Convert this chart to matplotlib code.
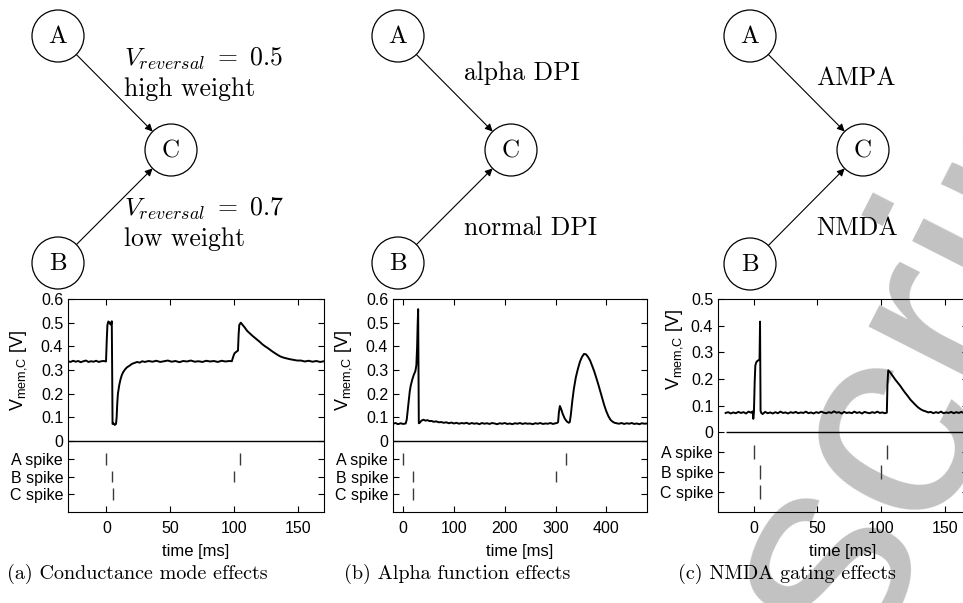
import matplotlib
matplotlib.use("Agg")
import matplotlib.pyplot as plt
import matplotlib.transforms as mtransforms
from matplotlib.patches import Circle, FancyArrowPatch
import numpy as np

plt.rcParams["font.family"] = ["Liberation Sans", "DejaVu Sans"]

# ---------------- membrane traces (time in ms, V_mem,C in V) ----------------
time_a = [-30, -28, -26, -24, -22, -20, -18, -16, -14, -12, -10, -8, -6, -4, -2, -0.3,
          0.3, 0.8, 1.5, 2.5, 3.2, 3.8, 4.2, 4.5, 4.8, 5.5, 6.5, 7.5, 8, 8.5, 9, 10, 11,
          12, 13, 14.5, 16, 18, 20, 22, 24, 26, 28, 30, 33, 36, 39, 42, 45, 48, 51, 54,
          57, 60, 63, 66, 69, 72, 75, 78, 81, 84, 87, 90, 93, 96, 98, 99, 100, 101.5,
          102.8, 103.3, 103.8, 105, 106.5, 108, 110, 112, 114, 116, 118, 120, 122, 124,
          126, 128, 130, 132, 134, 136, 138, 140, 143, 146, 149, 152, 155, 158, 161,
          164, 167, 170]
vmem_a = [0.337, 0.334, 0.339, 0.335, 0.338, 0.333, 0.337, 0.340, 0.334, 0.337, 0.335,
          0.339, 0.334, 0.337, 0.338, 0.336,
          0.43, 0.49, 0.505, 0.50, 0.492, 0.497, 0.506, 0.30, 0.072, 0.075, 0.068, 0.072,
          0.10, 0.16, 0.20, 0.235, 0.26, 0.278, 0.29, 0.302, 0.311, 0.318, 0.326, 0.330,
          0.334, 0.331, 0.337, 0.334, 0.338, 0.335, 0.339, 0.334, 0.337, 0.340, 0.335,
          0.338, 0.333, 0.338, 0.336, 0.340, 0.335, 0.337, 0.334, 0.339, 0.336, 0.338,
          0.334, 0.339, 0.336, 0.338, 0.337, 0.355, 0.37, 0.377, 0.382, 0.45, 0.49,
          0.50, 0.49, 0.48, 0.465, 0.455, 0.445, 0.436, 0.427, 0.418, 0.408, 0.40,
          0.393, 0.385, 0.377, 0.370, 0.363, 0.357, 0.353, 0.350, 0.346, 0.343, 0.340,
          0.340, 0.336, 0.339, 0.335, 0.338, 0.334, 0.337]

time_b = [-20, -15, -10, -5, 0, 5, 7, 9, 11, 13, 15, 18, 21, 24, 26, 27.5, 28.5, 29.5,
          30.2, 30.8, 33, 36, 40, 44, 48, 52, 56, 60, 65, 70, 75, 80, 85, 90, 95, 100,
          105, 110, 115, 120, 125, 130, 135, 140, 145, 150, 155, 160, 165, 170, 175,
          180, 185, 190, 195, 200, 205, 210, 215, 220, 225, 230, 235, 240, 245, 250,
          255, 260, 265, 270, 275, 280, 285, 290, 295, 300, 303, 305, 306.5, 308.5,
          311, 314, 318, 322, 326, 328, 330, 333, 336, 340, 344, 348, 352, 356, 360,
          364, 368, 372, 376, 380, 384, 388, 392, 396, 400, 404, 408, 412, 416, 420,
          425, 430, 435, 440, 445, 450, 455, 460, 465, 470, 475, 480]
vmem_b = [0.073, 0.076, 0.071, 0.075, 0.072, 0.074, 0.09, 0.13, 0.17, 0.21, 0.235,
          0.26, 0.28, 0.295, 0.32, 0.40, 0.49, 0.557, 0.30, 0.075, 0.078, 0.086, 0.09,
          0.086, 0.088, 0.084, 0.085, 0.081, 0.083, 0.079, 0.080, 0.077, 0.079, 0.075,
          0.078, 0.074, 0.077, 0.073, 0.076, 0.074, 0.077, 0.072, 0.076, 0.073, 0.075,
          0.071, 0.076, 0.073, 0.075, 0.072, 0.076, 0.074, 0.071, 0.075, 0.073, 0.076,
          0.072, 0.074, 0.071, 0.075, 0.073, 0.076, 0.072, 0.075, 0.073, 0.074, 0.071,
          0.075, 0.073, 0.076, 0.072, 0.074, 0.073, 0.076, 0.072, 0.075, 0.076, 0.08,
          0.12, 0.148, 0.135, 0.115, 0.095, 0.083, 0.077, 0.08, 0.11, 0.17, 0.22, 0.27,
          0.305, 0.335, 0.355, 0.368, 0.366, 0.355, 0.34, 0.318, 0.295, 0.268, 0.24,
          0.21, 0.18, 0.15, 0.125, 0.105, 0.09, 0.082, 0.077, 0.075, 0.073, 0.076,
          0.072, 0.075, 0.073, 0.076, 0.072, 0.074, 0.071, 0.075, 0.073, 0.074]

time_c = [-22, -20, -18, -16, -14, -12, -10, -8, -6, -4, -2, -0.8, -0.3, 0.2, 0.8, 1.3,
          2, 3, 4, 4.6, 5, 5.4, 6, 7, 9, 11, 13, 15, 17, 19, 21, 23, 25, 27, 29, 31, 33,
          35, 37, 39, 41, 43, 45, 47, 49, 51, 53, 55, 57, 59, 61, 63, 65, 67, 69, 71, 73,
          75, 77, 79, 81, 83, 85, 87, 89, 91, 93, 95, 97, 99, 101, 103, 104.5, 105,
          105.6, 107, 109, 111, 113, 115, 117, 119, 121, 123, 125, 127, 129, 131, 133,
          135, 137, 139, 141, 143, 145, 147, 149, 151, 153, 155, 157, 159, 161, 163,
          165, 168]
vmem_c = [0.072, 0.075, 0.070, 0.074, 0.071, 0.076, 0.072, 0.075, 0.070, 0.077, 0.073,
          0.078, 0.05, 0.075, 0.19, 0.25, 0.262, 0.268, 0.27, 0.275, 0.415, 0.08, 0.072,
          0.068, 0.076, 0.071, 0.074, 0.07, 0.075, 0.071, 0.077, 0.072, 0.074, 0.070,
          0.075, 0.072, 0.076, 0.071, 0.074, 0.072, 0.077, 0.071, 0.074, 0.070, 0.075,
          0.072, 0.077, 0.073, 0.071, 0.075, 0.072, 0.078, 0.073, 0.075, 0.070, 0.076,
          0.072, 0.074, 0.071, 0.077, 0.072, 0.075, 0.070, 0.076, 0.073, 0.071, 0.075,
          0.072, 0.077, 0.072, 0.074, 0.071, 0.073, 0.18, 0.232, 0.225, 0.212, 0.198,
          0.186, 0.174, 0.16, 0.147, 0.135, 0.122, 0.112, 0.102, 0.093, 0.086, 0.081,
          0.078, 0.074, 0.076, 0.071, 0.075, 0.072, 0.077, 0.071, 0.074, 0.072, 0.076,
          0.071, 0.075, 0.072, 0.076, 0.071, 0.074]

# ---------------- spike times (ms) ----------------
spike_labels = ["A spike", "B spike", "C spike"]
spike_rows = [-0.075, -0.15, -0.225]
spikes_a = [[0, 104], [4.5, 100], [5]]
spikes_b = [[0, 320], [20, 300], [20]]
spikes_c = [[0, 105], [5, 100], [5]]

# ---------------- axis settings ----------------
xlims = [(-30, 170), (-20, 480), (-28, 168.2)]
xticks = [[0, 50, 100, 150], [0, 100, 200, 300, 400], [0, 50, 100, 150]]
ylims = [(-0.3, 0.6), (-0.3, 0.6), (-0.3, 0.5)]
vticks = [[0, 0.1, 0.2, 0.3, 0.4, 0.5, 0.6],
          [0, 0.1, 0.2, 0.3, 0.4, 0.5, 0.6],
          [0, 0.1, 0.2, 0.3, 0.4, 0.5]]
captions = ["(a) Conductance mode effects", "(b) Alpha function effects",
            "(c) NMDA gating effects"]

# ---------------- network sketches (pixel layout) ----------------
node_names = ["A", "C", "B"]
node_xy = [[(58, 36), (171, 150), (58, 263)],
           [(398, 36), (511, 150), (398, 263)],
           [(750, 36), (863, 150), (750, 264)]]
node_r = 26
syn_labels = [[(r"$V_{reversal}\ =\ 0.5$", 124, 66), ("high weight", 124, 96),
               (r"$V_{reversal}\ =\ 0.7$", 124, 216), ("low weight", 124, 246)],
              [("alpha DPI", 464, 80), ("normal DPI", 464, 235)],
              [("AMPA", 816, 85), ("NMDA", 816, 235)]]

W, H = 963, 603
fig = plt.figure(figsize=(W / 100, H / 100), dpi=100)
fig.patch.set_facecolor("white")

# faint diagonal stamp behind everything
fig.text(525 / W, 1 - 1293 / H, "Manuscript", fontsize=208, color="#c2c2c2",
         rotation=63, rotation_mode="anchor", ha="left", va="baseline",
         family="Liberation Sans", zorder=-5)

# sketch layer in pixel coordinates
sk = fig.add_axes([0, 0, 1, 1])
sk.set_xlim(0, W)
sk.set_ylim(H, 0)
sk.axis("off")
sk.patch.set_alpha(0)
for nodes, labels in zip(node_xy, syn_labels):
    for name, (x, y) in zip(node_names, nodes):
        sk.add_patch(Circle((x, y), node_r, fill=False, lw=0.9, ec="k"))
        sk.text(x, y + 1, name, ha="center", va="center", fontsize=18, family="cmr10")
    cx, cy = nodes[1]
    for src in (nodes[0], nodes[2]):
        dx, dy = cx - src[0], cy - src[1]
        d = np.hypot(dx, dy)
        p0 = (src[0] + dx / d * node_r, src[1] + dy / d * node_r)
        p1 = (cx - dx / d * node_r, cy - dy / d * node_r)
        sk.add_patch(FancyArrowPatch(p0, p1, arrowstyle="-|>", mutation_scale=11,
                                     lw=0.8, color="k", shrinkA=0, shrinkB=0))
    for txt, x, y in labels:
        sk.text(x, y, txt, ha="left", va="baseline", fontsize=18.5, family="cmr10",
                math_fontfamily="cm")

# plot panels
panel_px = [(68, 256), (393, 254), (718, 250)]
top_px, bot_px = 299, 512
traces = [(time_a, vmem_a), (time_b, vmem_b), (time_c, vmem_c)]
spikes = [spikes_a, spikes_b, spikes_c]
caption_x = [137, 457, 787]
ylabel_pos = [(-0.195, 0.30), (-0.195, 0.30), (-0.175, 0.31)]

for i in range(3):
    left, width = panel_px[i]
    ax = fig.add_axes([left / W, 1 - bot_px / H, width / W, (bot_px - top_px) / H])
    ax.patch.set_alpha(0)
    t, v = traces[i]
    ax.plot(t, v, color="k", lw=1.4, zorder=3)
    if i == 2:
        ax.hlines(0, -22, xlims[i][1], color="k", lw=1)
    else:
        ax.axhline(0, color="k", lw=1)
    for row, times in zip(spike_rows, spikes[i]):
        ax.vlines(times, row - 0.025, row + 0.025, color="#3a3a3a", lw=1)
    ax.set_xlim(*xlims[i])
    ax.set_ylim(*ylims[i])
    ax.set_xticks(xticks[i])
    yt = vticks[i] + spike_rows
    ax.set_yticks(yt)
    ax.set_yticklabels([f"{y:g}" for y in vticks[i]] + spike_labels)
    ax.tick_params(direction="in", top=True, right=True, length=4, width=0.8,
                   labelsize=11.5)
    ax.tick_params(axis="x", pad=6.5)
    ax.tick_params(axis="y", pad=3.5)
    for s in ax.spines.values():
        s.set_linewidth(0.8)
    ax.set_xlabel("time [ms]", fontsize=12, labelpad=6)
    tr = mtransforms.blended_transform_factory(ax.transAxes, ax.transData)
    ax.text(ylabel_pos[i][0], ylabel_pos[i][1], r"$\mathregular{V_{mem{,}C}}$ [V]",
            transform=tr, rotation=90, ha="center", va="center", fontsize=13)
    fig.text(caption_x[i] / W, 1 - 574 / H, captions[i], ha="center", va="center",
             fontsize=14.5, family="cmr10")

fig.savefig("out.png", dpi=100, facecolor="white")
